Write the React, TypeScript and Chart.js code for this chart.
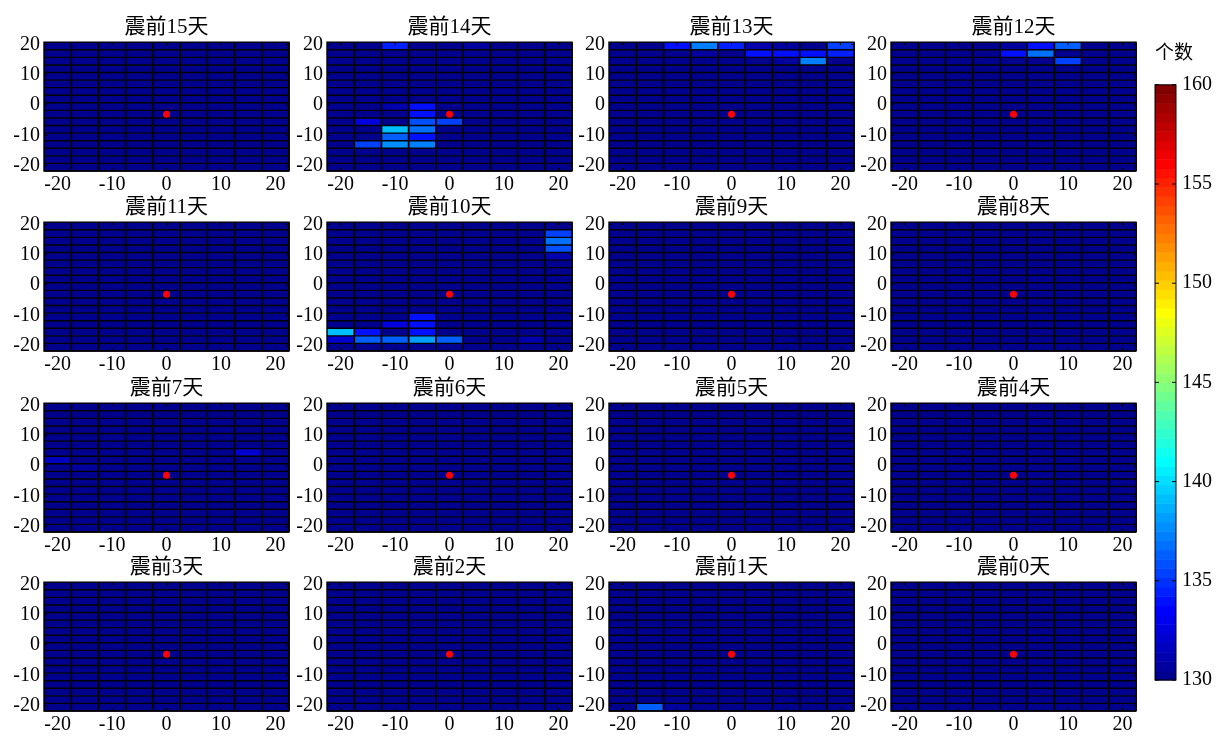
import React, { useEffect, useRef } from 'react';
import { Chart, registerables } from 'chart.js';

Chart.register(...registerables);

// ---------------- data ----------------
const X_CENTERS = [-20, -15, -10, -5, 0, 5, 10, 15, 20];
const Y_CENTERS = [19.5, 17, 14.5, 12, 9.5, 7, 4.5, 2, -0.5, -3, -5.5, -8, -10.5, -13, -15.5, -18, -20.5];
const CELL_W = 5;
const CELL_H = 2.5;
const X_TICKS = [-20, -10, 0, 10, 20];
const Y_TICKS = [-20, -10, 0, 10, 20];
const CB_TICKS = [130, 135, 140, 145, 150, 155, 160];
const C_MIN = 130;
const C_MAX = 160;
const BASE_VALUE = 130;
const EPICENTER = [{ x: 0, y: -3 }];
const DAYS = [15, 14, 13, 12, 11, 10, 9, 8, 7, 6, 5, 4, 3, 2, 1, 0];
const CB_LABEL = '个数';

// notable cells per day: [row (from top), column (from left), value]
const CELLS_D15: number[][] = [];
const CELLS_D14: number[][] = [
  [0, 2, 134.3], [0, 5, 130.8], [8, 2, 131.0], [8, 3, 134.0], [9, 3, 133.8],
  [10, 1, 132.8], [10, 3, 135.9], [10, 4, 135.6], [11, 2, 139.3], [11, 3, 137.0],
  [12, 2, 136.5], [12, 3, 134.2], [13, 1, 135.3], [13, 2, 137.7], [13, 3, 137.3],
];
const CELLS_D13: number[][] = [
  [0, 2, 134.0], [0, 3, 137.3], [0, 4, 134.3], [0, 5, 131.0], [0, 6, 130.8], [0, 8, 135.3],
  [1, 3, 130.8], [1, 5, 134.2], [1, 6, 134.2], [1, 7, 134.0], [1, 8, 134.5],
  [2, 6, 130.8], [2, 7, 137.3],
];
const CELLS_D12: number[][] = [
  [0, 4, 130.8], [0, 5, 133.9], [0, 6, 136.1], [1, 4, 134.0], [1, 5, 136.7], [2, 6, 135.3],
];
const CELLS_D11: number[][] = [];
const CELLS_D10: number[][] = [
  [1, 8, 135.5], [2, 8, 137.0], [3, 8, 136.0], [4, 8, 131.0],
  [12, 3, 134.0], [13, 2, 132.6], [13, 3, 134.0],
  [14, 0, 139.2], [14, 1, 133.9], [14, 3, 133.9],
  [15, 0, 132.3], [15, 1, 136.4], [15, 2, 136.4], [15, 3, 138.1], [15, 4, 136.3], [15, 7, 131.0],
];
const CELLS_D9: number[][] = [];
const CELLS_D8: number[][] = [];
const CELLS_D7: number[][] = [[6, 7, 132.0], [7, 0, 131.8], [8, 1, 130.8]];
const CELLS_D6: number[][] = [];
const CELLS_D5: number[][] = [];
const CELLS_D4: number[][] = [];
const CELLS_D3: number[][] = [];
const CELLS_D2: number[][] = [];
const CELLS_D1: number[][] = [[16, 1, 136.4], [16, 2, 130.9]];
const CELLS_D0: number[][] = [];

const CELLS_BY_PANEL = [
  CELLS_D15, CELLS_D14, CELLS_D13, CELLS_D12,
  CELLS_D11, CELLS_D10, CELLS_D9, CELLS_D8,
  CELLS_D7, CELLS_D6, CELLS_D5, CELLS_D4,
  CELLS_D3, CELLS_D2, CELLS_D1, CELLS_D0,
];

// ---------------- layout / style ----------------
const PANEL_LEFTS = [44, 327, 609, 891];
const PANEL_TOPS = [43, 223, 404, 583];
const PLOT_W = 245;
const PLOT_H = 128;
const Y_AXIS_W = 44;
const TITLE_H = 30;
const X_AXIS_H = 24;
const RIGHT_PAD = 6;
const FONT_FAMILY = '"Liberation Serif", "Times New Roman", "Noto Sans CJK SC", serif';

function buildJet(m: number): string[] {
  const n = Math.ceil(m / 4);
  const u: number[] = [];
  for (let i = 1; i <= n; i++) u.push(i / n);
  for (let i = 1; i < n; i++) u.push(1);
  for (let i = n; i >= 1; i--) u.push(i / n);
  const g0 = Math.ceil(n / 2) - (m % 4 === 1 ? 1 : 0);
  const J = Array.from({ length: m }, () => [0, 0, 0]);
  for (let i = 0; i < u.length; i++) {
    const g = g0 + i + 1;
    const r = g + n;
    const b = g - n;
    if (g >= 1 && g <= m) J[g - 1][1] = u[i];
    if (r >= 1 && r <= m) J[r - 1][0] = u[i];
    if (b >= 1 && b <= m) J[b - 1][2] = u[i];
  }
  return J.map(([r, g, b]) => `rgb(${Math.round(r * 255)},${Math.round(g * 255)},${Math.round(b * 255)})`);
}
const JET = buildJet(64);

function colorFor(v: number): string {
  let k = Math.floor(((v - C_MIN) / (C_MAX - C_MIN)) * JET.length);
  if (k < 0) k = 0;
  if (k > JET.length - 1) k = JET.length - 1;
  return JET[k];
}

function buildMatrix(cells: number[][]): number[][] {
  const m = Y_CENTERS.map(() => X_CENTERS.map(() => BASE_VALUE));
  cells.forEach(([r, c, v]) => { m[r][c] = v; });
  return m;
}

const heatPlugin = {
  id: 'heat',
  beforeDatasetsDraw(chart: any, _args: any, opts: any) {
    const matrix: number[][] = opts.matrix;
    const xs = chart.scales.x;
    const ys = chart.scales.y;
    const ctx = chart.ctx;
    const area = chart.chartArea;
    ctx.save();
    Y_CENTERS.forEach((yc, r) => {
      X_CENTERS.forEach((xc, c) => {
        const x0 = xs.getPixelForValue(xc - CELL_W / 2);
        const x1 = xs.getPixelForValue(xc + CELL_W / 2);
        const y0 = ys.getPixelForValue(yc + CELL_H / 2);
        const y1 = ys.getPixelForValue(yc - CELL_H / 2);
        ctx.fillStyle = colorFor(matrix[r][c]);
        ctx.fillRect(x0, y0, x1 - x0, y1 - y0);
      });
    });
    ctx.strokeStyle = '#000';
    // horizontal cell borders
    ctx.lineWidth = 1.4;
    Y_CENTERS.forEach((yc) => {
      const y = ys.getPixelForValue(yc - CELL_H / 2);
      ctx.beginPath();
      ctx.moveTo(area.left, y);
      ctx.lineTo(area.right, y);
      ctx.stroke();
    });
    // vertical cell borders
    ctx.lineWidth = 1.8;
    X_CENTERS.forEach((xc) => {
      const x = xs.getPixelForValue(xc + CELL_W / 2);
      ctx.beginPath();
      ctx.moveTo(x, area.top);
      ctx.lineTo(x, area.bottom);
      ctx.stroke();
    });
    // inward tick marks
    ctx.lineWidth = 1;
    const tl = 3;
    X_TICKS.forEach((t) => {
      const x = xs.getPixelForValue(t);
      ctx.beginPath();
      ctx.moveTo(x, area.top);
      ctx.lineTo(x, area.top + tl);
      ctx.moveTo(x, area.bottom);
      ctx.lineTo(x, area.bottom - tl);
      ctx.stroke();
    });
    Y_TICKS.forEach((t) => {
      const y = ys.getPixelForValue(t);
      ctx.beginPath();
      ctx.moveTo(area.left, y);
      ctx.lineTo(area.left + tl, y);
      ctx.moveTo(area.right, y);
      ctx.lineTo(area.right - tl, y);
      ctx.stroke();
    });
    // box
    ctx.lineWidth = 1.4;
    ctx.strokeRect(area.left, area.top, area.right - area.left, area.bottom - area.top);
    ctx.restore();
  },
};

const colorbarPlugin = {
  id: 'colorbar',
  beforeDatasetsDraw(chart: any) {
    const ys = chart.scales.y;
    const ctx = chart.ctx;
    const area = chart.chartArea;
    const n = JET.length;
    ctx.save();
    JET.forEach((col, k) => {
      const v0 = C_MIN + ((C_MAX - C_MIN) * k) / n;
      const v1 = C_MIN + ((C_MAX - C_MIN) * (k + 1)) / n;
      const y0 = ys.getPixelForValue(v1);
      const y1 = ys.getPixelForValue(v0);
      ctx.fillStyle = col;
      ctx.fillRect(area.left, y0, area.right - area.left, y1 - y0 + 0.5);
    });
    ctx.strokeStyle = '#000';
    ctx.lineWidth = 1;
    CB_TICKS.forEach((t) => {
      const y = ys.getPixelForValue(t);
      ctx.beginPath();
      ctx.moveTo(area.left, y);
      ctx.lineTo(area.left + 4, y);
      ctx.moveTo(area.right, y);
      ctx.lineTo(area.right - 4, y);
      ctx.stroke();
    });
    ctx.strokeRect(area.left, area.top, area.right - area.left, area.bottom - area.top);
    ctx.restore();
  },
};

function Panel({ index }: { index: number }) {
  const ref = useRef<HTMLCanvasElement>(null);
  const row = Math.floor(index / 4);
  const col = index % 4;
  const left = PANEL_LEFTS[col] - Y_AXIS_W;
  const top = PANEL_TOPS[row] - TITLE_H;
  const width = Y_AXIS_W + PLOT_W + RIGHT_PAD;
  const height = TITLE_H + PLOT_H + X_AXIS_H;

  useEffect(() => {
    const matrix = buildMatrix(CELLS_BY_PANEL[index]);
    const chart = new Chart(ref.current as HTMLCanvasElement, {
      type: 'scatter',
      data: {
        datasets: [
          {
            data: EPICENTER,
            pointRadius: 3.5,
            pointHoverRadius: 3.5,
            backgroundColor: '#ff0000',
            borderColor: '#ff0000',
            borderWidth: 0,
          },
        ],
      },
      options: {
        responsive: false,
        animation: false,
        events: [],
        layout: { padding: { left: 0, right: RIGHT_PAD, top: 0, bottom: 0 } },
        plugins: {
          legend: { display: false },
          tooltip: { enabled: false },
          title: {
            display: true,
            text: `震前${DAYS[index]}天`,
            fullSize: false,
            color: '#000',
            font: { family: FONT_FAMILY, size: 21, weight: 'normal' },
            padding: { top: 2, bottom: 2 },
          },
          heat: { matrix },
        } as any,
        scales: {
          x: {
            type: 'linear',
            min: X_CENTERS[0] - CELL_W / 2,
            max: X_CENTERS[X_CENTERS.length - 1] + CELL_W / 2,
            grid: { display: false, drawTicks: false },
            border: { display: false },
            afterBuildTicks: (s: any) => { s.ticks = X_TICKS.map((v) => ({ value: v })); },
            afterFit: (s: any) => { s.height = X_AXIS_H; },
            ticks: {
              autoSkip: false,
              maxRotation: 0,
              minRotation: 0,
              padding: 2,
              color: '#000',
              font: { family: FONT_FAMILY, size: 20 },
              callback: (v: any) => String(v),
            },
          },
          y: {
            type: 'linear',
            min: Y_CENTERS[Y_CENTERS.length - 1] - CELL_H / 2,
            max: Y_CENTERS[0] + CELL_H / 2,
            grid: { display: false, drawTicks: false },
            border: { display: false },
            afterBuildTicks: (s: any) => { s.ticks = Y_TICKS.map((v) => ({ value: v })); },
            afterFit: (s: any) => { s.width = Y_AXIS_W; },
            ticks: {
              autoSkip: false,
              padding: 4,
              color: '#000',
              font: { family: FONT_FAMILY, size: 20 },
              callback: (v: any) => String(v),
            },
          },
        },
      } as any,
      plugins: [heatPlugin],
    });
    return () => chart.destroy();
  }, [index]);

  return (
    <canvas
      ref={ref}
      width={width}
      height={height}
      style={{ position: 'absolute', left, top, width, height }}
    />
  );
}

function ColorBar() {
  const ref = useRef<HTMLCanvasElement>(null);
  const left = 1150;
  const top = 38;
  const width = 69;
  const height = 660;
  useEffect(() => {
    const chart = new Chart(ref.current as HTMLCanvasElement, {
      type: 'scatter',
      data: { datasets: [] },
      options: {
        responsive: false,
        animation: false,
        events: [],
        layout: { padding: { left: 5, right: 0, top: 0, bottom: 12 } },
        plugins: {
          legend: { display: false },
          tooltip: { enabled: false },
          title: {
            display: true,
            text: CB_LABEL,
            align: 'start',
            color: '#000',
            font: { family: FONT_FAMILY, size: 19, weight: 'normal' },
            padding: { top: 5, bottom: 19 },
          },
        },
        scales: {
          x: { display: false, min: 0, max: 1 },
          y: {
            type: 'linear',
            position: 'right',
            min: C_MIN,
            max: C_MAX,
            grid: { display: false, drawTicks: false },
            border: { display: false },
            afterBuildTicks: (s: any) => { s.ticks = CB_TICKS.map((v) => ({ value: v })); },
            afterFit: (s: any) => { s.width = 43; },
            ticks: {
              padding: 6,
              color: '#000',
              font: { family: FONT_FAMILY, size: 20 },
              callback: (v: any) => String(v),
            },
          },
        },
      } as any,
      plugins: [colorbarPlugin],
    });
    return () => chart.destroy();
  }, []);
  return (
    <canvas
      ref={ref}
      width={width}
      height={height}
      style={{ position: 'absolute', left, top, width, height }}
    />
  );
}

export default function App() {
  return (
    <div style={{ position: 'absolute', left: 0, top: 0, width: 1219, height: 751, background: '#fff' }}>
      {DAYS.map((_, i) => (
        <Panel key={i} index={i} />
      ))}
      <ColorBar />
    </div>
  );
}
